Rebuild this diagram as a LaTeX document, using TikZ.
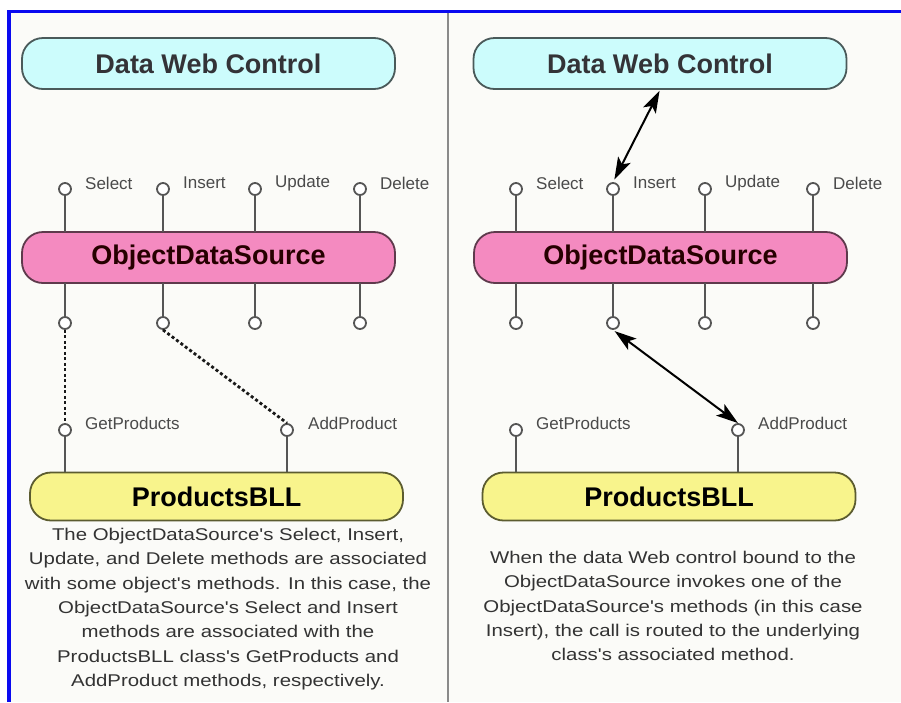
\documentclass[tikz,border=0pt]{standalone}
\usepackage{fontspec}
\setmainfont{Liberation Sans}
\newfontfamily\capfont[FakeStretch=1.2]{Liberation Sans}
\usetikzlibrary{arrows.meta}
\definecolor{bgc}{HTML}{FBFBF8}
\definecolor{blueb}{HTML}{0A0AF0}
\definecolor{divc}{HTML}{8A8A8A}
\definecolor{cyanf}{HTML}{CCFCFC}
\definecolor{cyand}{HTML}{4A5A5A}
\definecolor{pinkf}{HTML}{F48AC0}
\definecolor{pinkd}{HTML}{5E3A4C}
\definecolor{yelf}{HTML}{F8F48C}
\definecolor{yeld}{HTML}{5C5C30}
\definecolor{pinc}{HTML}{555555}
\definecolor{labc}{HTML}{4A4A4A}
\definecolor{capc}{HTML}{333333}
\tikzset{
  box/.style={rounded corners=21pt, line width=1.8pt, minimum height=51pt, minimum width=373pt,
    inner sep=0pt, font=\fontsize{27}{30}\selectfont\bfseries},
  dwc/.style={box, fill=cyanf, draw=cyand, text=black!90!cyan},
  ods/.style={box, fill=pinkf, draw=pinkd, text=black!85!red},
  bll/.style={box, fill=yelf, draw=yeld, minimum height=48pt, text=black},
  pin/.style={circle, draw=pinc, fill=white, line width=1.8pt, minimum size=12pt, inner sep=0pt},
  stem/.style={draw=pinc, line width=1.6pt},
  plabel/.style={anchor=west, text=labc, inner sep=0pt, font=\fontsize{17}{20}\selectfont},
  caption/.style={anchor=north, align=center, text=capc, inner sep=0pt, font=\capfont\fontsize{17}{24.3}\selectfont},
  link/.style={draw=black!90, line width=2.8pt, dash pattern=on 3pt off 2.5pt},
  call/.style={draw=black, line width=2pt, >={Stealth[length=22pt,width=14pt,inset=5pt]}, <->},
}
\begin{document}
\begin{tikzpicture}[x=1pt,y=-1pt]
\useasboundingbox (0,0) rectangle (901,702);
\fill[white] (0,0) rectangle (901,702);
\fill[bgc] (9,12) rectangle (901,702);
\draw[blueb, line width=3.5pt] (7,11.5) -- (901,11.5);
\draw[blueb, line width=3.5pt] (9,10) -- (9,702);
\draw[divc, line width=2pt] (448,13) -- (448,702);

% ---------- left panel ----------
\node[dwc] (dwcL) at (208.5,63.5) {Data Web Control};
\node[ods] (odsL) at (208.5,257.5) {ObjectDataSource};
\node[bll] (bllL) at (216.5,496.5) {ProductsBLL};

\foreach \n/\x/\t in {selL/65/Select, insL/163/Insert, updL/255/Update, delL/360/Delete}{
  \node[pin] (\n t) at (\x,189) {};
  \node[pin] (\n b) at (\x,323) {};
  \draw[stem] (\n t.south) -- (\x,232);
  \draw[stem] (\x,283) -- (\n b.north);
  \node[plabel] (\n lab) at (\x+20,183) {\t};
}
\node[pin] (getL) at (65,430) {};
\node[pin] (addL) at (287,430) {};
\draw[stem] (getL.south) -- (getL.south |- bllL.north);
\draw[stem] (addL.south) -- (addL.south |- bllL.north);
\node[plabel] (getLlab) at (85,423) {GetProducts};
\node[plabel] (addLlab) at (308,423) {AddProduct};
\draw[link] (selLb.south) -- (getL.north);
\draw[link] (insLb.south) -- (addL.north);

\node[caption] (capL) at (228,528) {The ObjectDataSource's Select, Insert,\\
Update, and Delete methods are associated\\
with some object's methods. In this case, the\\
ObjectDataSource's Select and Insert\\
methods are associated with the\\
ProductsBLL class's GetProducts and\\
AddProduct methods, respectively.};

% ---------- right panel ----------
\node[dwc] (dwcR) at (660,63.5) {Data Web Control};
\node[ods] (odsR) at (660.5,257.5) {ObjectDataSource};
\node[bll] (bllR) at (669,496.5) {ProductsBLL};

\foreach \n/\x/\t in {selR/516/Select, insR/613/Insert, updR/705/Update, delR/813/Delete}{
  \node[pin] (\n t) at (\x,189) {};
  \node[pin] (\n b) at (\x,323) {};
  \draw[stem] (\n t.south) -- (\x,232);
  \draw[stem] (\x,283) -- (\n b.north);
  \node[plabel] (\n lab) at (\x+20,183) {\t};
}
\node[pin] (getR) at (516,430) {};
\node[pin] (addR) at (738,430) {};
\draw[stem] (getR.south) -- (getR.south |- bllR.north);
\draw[stem] (addR.south) -- (addR.south |- bllR.north);
\node[plabel] (getRlab) at (536,423) {GetProducts};
\node[plabel] (addRlab) at (758,423) {AddProduct};

\draw[call, shorten <=1pt, shorten >=3pt] (dwcR.south) -- (insRt.north);
\draw[call, shorten <=2pt, shorten >=0pt] (insRb.south) -- (addR.north);

\node[caption] (capR) at (673,551) {When the data Web control bound to the\\
ObjectDataSource invokes one of the\\
ObjectDataSource's methods (in this case\\
Insert), the call is routed to the underlying\\
class's associated method.};
\end{tikzpicture}
\end{document}
